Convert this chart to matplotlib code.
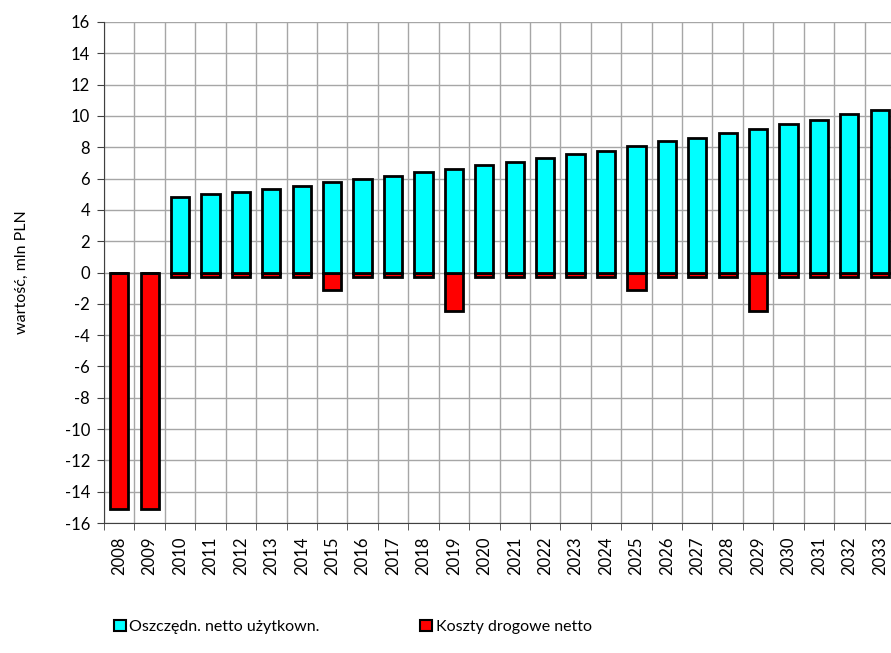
import numpy as np
import matplotlib.pyplot as plt
from matplotlib.patches import Patch

plt.rcParams['font.family'] = ['Lato', 'DejaVu Sans']

years = [str(y) for y in range(2008, 2034)]
savings = [0, 0, 4.84, 4.99, 5.16, 5.35, 5.54, 5.76, 5.97, 6.18, 6.40, 6.62, 6.85,
           7.08, 7.32, 7.57, 7.78, 8.08, 8.38, 8.57, 8.89, 9.16, 9.48, 9.74, 10.12, 10.38]
costs = [-15.1, -15.1, -0.3, -0.3, -0.3, -0.3, -0.3, -1.1, -0.3, -0.3, -0.3, -2.45, -0.3,
         -0.3, -0.3, -0.3, -0.3, -1.1, -0.3, -0.3, -0.3, -2.45, -0.3, -0.3, -0.3, -0.3]
yticks = list(range(-16, 17, 2))

fig = plt.figure(figsize=(8.91, 6.53), dpi=100)
ax = fig.add_axes([104 / 891, 1 - 523 / 653, 791 / 891, 501 / 653])

x = np.arange(len(years))
ax.bar(x, costs, width=0.6, color='#ff0000', edgecolor='black', linewidth=2, zorder=3)
ax.bar(x, savings, width=0.6, color='#00ffff', edgecolor='black', linewidth=2, zorder=3)

ax.set_xlim(-0.5, len(years) - 0.5)
ax.set_ylim(-16, 16)
ax.set_yticks(yticks)
ax.set_yticklabels([str(v) for v in yticks], fontsize=12)
ax.set_xticks(x)
ax.set_xticklabels(years, rotation=90, fontsize=12)
ax.set_xticks(np.arange(-0.5, len(years), 1), minor=True)
ax.tick_params(axis='x', which='major', length=0, pad=10)
ax.tick_params(axis='x', which='minor', length=5, color='#404040')
ax.tick_params(axis='y', length=5, color='#404040', pad=5)
ax.grid(axis='y', color='#a6a6a6', linewidth=1, zorder=0)
ax.grid(axis='x', which='minor', color='#a6a6a6', linewidth=1, zorder=0)
for s in ['top', 'right']:
    ax.spines[s].set_visible(False)
ax.spines['left'].set_color('#404040')
ax.spines['bottom'].set_color('#404040')

ax.set_ylabel('wartość, mln PLN', fontsize=11.5, labelpad=26)

handles = [Patch(facecolor='#00ffff', edgecolor='black', linewidth=1.5),
           Patch(facecolor='#ff0000', edgecolor='black', linewidth=1.5)]
fig.legend(handles, ['Oszczędn. netto użytkown.', 'Koszty drogowe netto'],
           loc='center left', bbox_to_anchor=(0.112, 1 - 627 / 653), ncol=2,
           frameon=False, fontsize=11.5, handlelength=0.75, handleheight=0.75,
           handletextpad=0.2, columnspacing=6.3)

fig.savefig('out.png', dpi=100)
